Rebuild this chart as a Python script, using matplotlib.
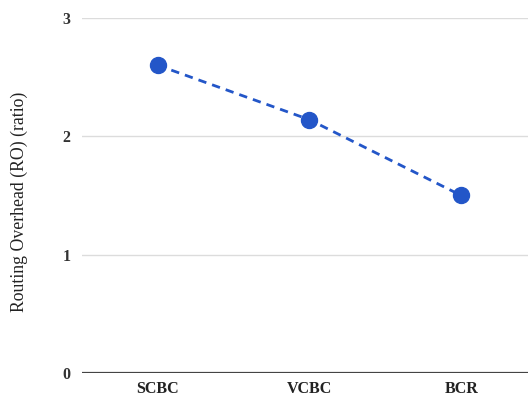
import matplotlib
matplotlib.use("Agg")
import matplotlib.pyplot as plt

metodos = ["SCBC", "VCBC", "BCR"]
overhead = [2.6, 2.14, 1.5]
yticks = [0, 1, 2, 3]

plt.rcParams["font.family"] = ["Liberation Serif", "DejaVu Serif"]

fig = plt.figure(figsize=(5.28, 3.98), dpi=100)
ax = fig.add_axes([0.155, 0.063, 0.862, 0.892])

x = range(len(metodos))
ax.plot(x, overhead,
        color="#2356C8",
        marker="o",
        markersize=11.5,
        linestyle=(0, (3, 2.2)),
        linewidth=2,
        clip_on=False,
        zorder=3)

ax.set_xlim(-0.5, 2.5)
ax.set_ylim(0, 3)
ax.set_yticks(yticks)
ax.set_xticks(list(x))
ax.set_xticklabels(metodos, fontweight="bold", fontsize=11.5, color="#222222")
ax.set_yticklabels([str(v) for v in yticks], fontweight="bold", fontsize=11.5, color="#333333")
ax.tick_params(length=0, pad=8)
ax.tick_params(axis="x", pad=6)

ax.grid(axis="y", color="#dcdcdc", linewidth=1)
ax.axhline(0, color="#444444", linewidth=1.6, zorder=2)
for s in ax.spines.values():
    s.set_visible(False)

ax.set_ylabel("Routing Overhead (RO) (ratio)", fontsize=12.8, color="#222222")
ax.yaxis.set_label_coords(-0.119, 0.483)

fig.savefig("out.png", dpi=100)
